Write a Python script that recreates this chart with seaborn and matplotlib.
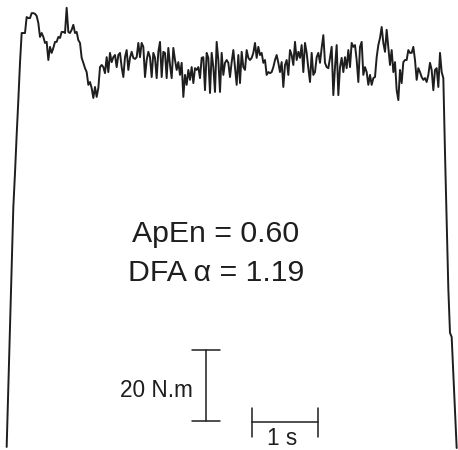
import numpy as np
import pandas as pd
import matplotlib
matplotlib.use("Agg")
import matplotlib.pyplot as plt
import seaborn as sns

# ---- data: torque trace (N.m) sampled at 40 Hz, starting at t = 0.1 s ----
FS = 40.0
T_START = 0.1
torque = [
    0.3, 17.2, 34.1, 51.0, 67.9, 77.5, 88.2, 98.0, 108.5, 116.9,
    116.9, 116.9, 121.4, 121.1, 121.1, 122.5, 122.5, 122.3, 121.7, 119.7,
    115.8, 116.9, 115.8, 114.1, 114.4, 109.3, 113.0, 111.3, 112.7, 114.4,
    114.4, 115.8, 115.5, 117.2, 117.2, 116.9, 124.0, 117.2, 116.9, 117.8,
    119.2, 116.9, 117.2, 114.9, 114.1, 109.9, 108.5, 107.0, 105.9, 102.3,
    103.1, 101.4, 98.6, 101.7, 98.9, 101.4, 107.3, 107.9, 107.3, 105.6,
    110.1, 105.9, 111.3, 108.7, 110.1, 110.7, 107.3, 110.7, 111.3, 107.3,
    104.5, 110.1, 112.1, 106.5, 109.9, 111.6, 109.9, 109.6, 110.1, 114.1,
    110.1, 114.1, 113.0, 104.5, 109.3, 111.6, 110.1, 104.5, 111.3, 109.9,
    104.2, 111.6, 114.4, 104.5, 111.6, 111.3, 104.2, 112.7, 107.9, 104.2,
    112.7, 109.3, 106.5, 108.7, 105.1, 108.5, 98.9, 105.1, 102.3, 106.5,
    103.7, 107.3, 102.8, 107.0, 106.5, 107.3, 104.2, 109.9, 110.1, 100.8,
    111.3, 109.9, 100.0, 111.3, 107.3, 100.3, 114.4, 109.3, 100.3, 111.3,
    105.1, 108.5, 109.3, 108.5, 104.5, 108.7, 112.1, 107.3, 102.3, 110.7,
    102.8, 111.6, 107.3, 106.5, 112.1, 109.9, 109.3, 109.9, 111.3, 114.1,
    109.9, 113.0, 110.7, 111.3, 108.5, 109.3, 105.1, 105.9, 105.6, 105.9,
    107.3, 109.3, 110.7, 108.5, 105.9, 108.7, 101.7, 107.9, 109.3, 105.1,
    112.1, 110.7, 107.9, 114.4, 109.3, 111.6, 109.9, 113.5, 105.9, 114.1,
    111.3, 107.0, 103.1, 111.3, 105.1, 105.9, 110.1, 111.3, 108.5, 112.7,
    116.3, 108.5, 107.3, 107.0, 109.9, 113.0, 99.4, 107.3, 113.5, 99.4,
    107.3, 109.9, 105.9, 110.1, 107.0, 112.1, 107.3, 114.1, 113.0, 113.5,
    109.3, 103.1, 113.0, 114.4, 105.1, 107.3, 105.9, 102.3, 105.1, 102.3,
    104.2, 104.5, 110.1, 113.5, 115.5, 118.6, 114.1, 111.6, 117.8, 113.0,
    107.9, 112.1, 105.9, 108.7, 100.8, 98.0, 106.5, 102.8, 108.7, 109.3,
    109.3, 112.1, 111.3, 111.3, 113.0, 109.3, 103.7, 107.0, 105.9, 104.5,
    103.7, 104.2, 103.1, 105.1, 108.5, 106.5, 100.8, 106.5, 107.0, 101.7,
    111.3, 105.9, 104.2, 83.1, 63.9, 44.8, 32.4, 31.3, 20.8, 10.4,
    0.0,
]
time_s = T_START + np.arange(len(torque)) / FS

apen_label = "ApEn = 0.60"
dfa_label = "DFA \u03b1 = 1.19"
scale_torque = 20.0   # N.m
scale_time = 1.0      # s
scale_torque_label = "20 N.m"
scale_time_label = "1 s"

df = pd.DataFrame({"time": time_s, "torque": torque})

sns.set_style("white")
plt.rcParams["font.family"] = ["Liberation Sans", "DejaVu Sans"]

INK = "#1e1e1e"
fig = plt.figure(figsize=(4.58, 4.50), dpi=100)
ax = fig.add_axes([0, 0, 1, 1])
sns.lineplot(data=df, x="time", y="torque", ax=ax, color=INK,
             linewidth=1.4, estimator=None, sort=False)

ax.set_xlim(0, 6.87)
ax.set_ylim(-0.56, 126.2)
ax.set_axis_off()

# annotation text
ax.text(3.24, 58.1, apen_label, ha="center", va="baseline",
        fontsize=21.8, color=INK)
ax.text(3.24, 47.1, dfa_label, ha="center", va="baseline",
        fontsize=21.8, color=INK)

# vertical scale bar (20 N.m)
vb_x, vb_bottom = 3.09, 7.7
ax.plot([vb_x, vb_x], [vb_bottom, vb_bottom + scale_torque], color=INK, lw=1.1)
for yy in (vb_bottom, vb_bottom + scale_torque):
    ax.plot([2.875, 3.30], [yy, yy], color=INK, lw=1.1)
ax.text(2.895, 14.45, scale_torque_label, ha="right", va="baseline",
        fontsize=16.3, color=INK)

# horizontal scale bar (1 s)
hb_left, hb_y = 3.775, 7.4
ax.plot([hb_left, hb_left + scale_time], [hb_y, hb_y], color=INK, lw=1.1)
for xx in (hb_left, hb_left + scale_time):
    ax.plot([xx, xx], [3.2, 11.2], color=INK, lw=1.1)
ax.text(hb_left + scale_time / 2 - 0.05, 0.96, scale_time_label, ha="center",
        va="baseline", fontsize=16.3, color=INK)

fig.savefig("out.png", dpi=100)
